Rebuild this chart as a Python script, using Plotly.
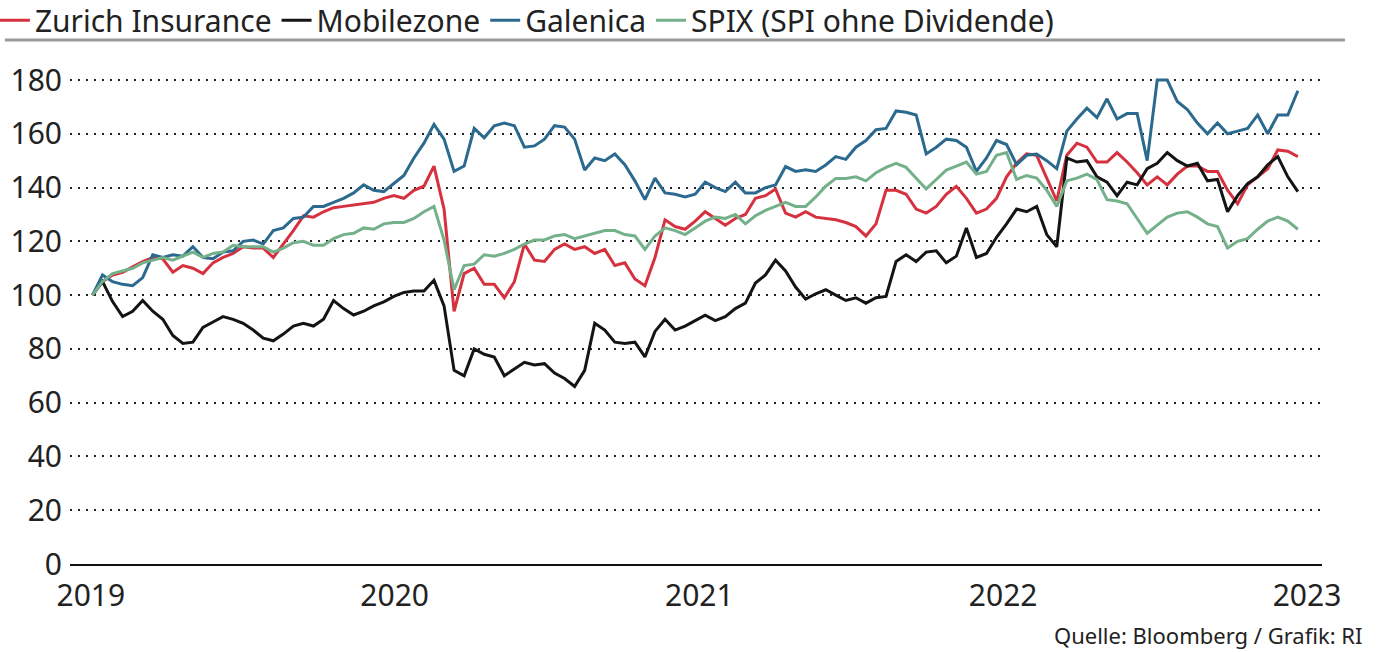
import pandas as pd
import plotly.graph_objects as go

# Common trading-date grid (roughly every 12 days), Jan 2019 - Dec 2022
dates = pd.date_range("2019-01-03", "2022-12-21", periods=121)

zurich = [
    100, 105, 107.5, 108.5, 110.5, 112.5, 114, 113.5, 108.5, 111,
    110, 108, 112, 114, 115.5, 118, 117.5, 117.5, 114, 119,
    124, 129.5, 129, 131, 132.5, 133, 133.5, 134, 134.5, 136,
    137, 136, 139, 140.5, 148, 132, 94, 108, 110, 104,
    104, 99, 105, 119, 113, 112.5, 117, 119, 117, 118,
    115.5, 117, 111, 112, 106, 103.5, 114, 128, 125.5, 124.5,
    127.5, 131, 128.5, 126, 128.5, 130, 136, 137, 139.5, 130.5,
    129, 131, 129, 128.5, 128, 127, 125.5, 122, 126.5, 139,
    139, 137.5, 132, 130.5, 133, 137.5, 140.5, 136, 130.5, 132,
    136, 144, 149, 152.5, 152, 143.5, 135, 152, 156.5, 155,
    149.5, 149.5, 153, 149.5, 145.5, 141, 144, 141, 145, 148,
    148, 146, 146, 139, 134, 141, 144, 147, 154, 153.5,
    151.5,
]

mobilezone = [
    100, 105, 97.6, 92, 94, 98, 94, 91, 85, 82,
    82.5, 88, 90, 92, 91, 89.5, 87, 84, 83, 85.5,
    88.5, 89.5, 88.5, 91, 98, 95, 92.6, 94, 96, 97.5,
    99.5, 101, 101.5, 101.5, 105.5, 96, 72, 70, 80, 78,
    77, 70, 72.5, 75, 74, 74.5, 71, 69, 66, 72,
    89.5, 87, 82.5, 82, 82.5, 77, 86.5, 91, 87, 88.5,
    90.5, 92.5, 90.5, 92, 95, 97, 104.5, 107.5, 113, 109,
    103, 98.5, 100.5, 102, 100, 98, 99, 97, 99, 99.5,
    112.5, 115, 112.5, 116, 116.5, 112, 114.5, 125, 114, 115.5,
    121.5, 126.5, 132, 131, 133, 122.5, 118, 151, 149.5, 150,
    144, 142, 137, 142, 141, 147, 149, 153, 150, 148,
    149, 142.5, 143, 131, 137, 141.5, 144, 148.5, 151.5, 144,
    138.5,
]

galenica = [
    100, 107.5, 105, 104, 103.5, 106.5, 115, 114, 115, 114.5,
    118, 114, 113.5, 116, 116.5, 120, 120.5, 119, 124, 125,
    128.5, 129, 133, 133, 134.5, 136, 138, 141, 139, 138.5,
    141.5, 144.5, 151, 156.5, 163.5, 158, 146, 148, 162, 158.5,
    163, 164, 163, 155, 155.5, 158, 163, 162.5, 158, 146.5,
    151, 150, 152.5, 148.5, 142.5, 135.5, 143.5, 138, 137.5, 136.5,
    137.5, 142, 140, 138.5, 142, 138, 138, 140, 141, 147.8,
    146, 146.6, 146, 148.4, 151.5, 150.5, 155, 157.5, 161.5, 162,
    168.5, 168, 167, 152.5, 155, 158, 157.5, 155, 146, 151,
    157.5, 156, 148.5, 152, 152.5, 150, 147, 161, 165.5, 169.5,
    166, 173, 165.5, 167.5, 167.5, 150, 180, 180, 172, 169,
    164, 160, 164, 160, 161, 162, 167, 160, 167, 167,
    176,
]

spix = [
    100, 105, 108, 109, 110, 112, 113, 114, 113, 114.5,
    116, 114, 115.5, 116, 118.5, 118, 118, 118, 116, 117.5,
    119.5, 120, 118.5, 118.5, 121, 122.5, 123, 125, 124.5, 126.5,
    127, 127, 128.5, 131, 133, 120.5, 102, 111, 111.5, 115,
    114.5, 115.5, 117, 119, 120.5, 120.5, 122, 122.5, 121, 122,
    123, 124, 124, 122.5, 122, 117, 122, 125, 124, 122.5,
    125, 127.5, 129, 128.5, 130, 126.5, 129.5, 131.5, 133, 134.5,
    133, 133, 136.5, 140.5, 143.4, 143.4, 144, 142.5, 145.5, 147.5,
    149, 147.5, 143.5, 139.5, 143, 146.5, 148, 149.5, 145, 146,
    152, 153, 143, 144.5, 143.5, 139, 133, 142.5, 143.5, 145,
    143, 135.5, 135, 134, 128.5, 123, 126, 129, 130.5, 131,
    129, 126.5, 125.5, 117.5, 120, 121, 124.5, 127.5, 129, 127.5,
    124.5,
]

series_names = ["Zurich Insurance", "Mobilezone", "Galenica", "SPIX (SPI ohne Dividende)"]
series_values = [zurich, mobilezone, galenica, spix]
series_colors = ["#d6313f", "#141414", "#2b6a8e", "#74b08a"]

year_ticks = pd.to_datetime(["2019-01-01", "2020-01-01", "2021-01-01", "2022-01-01", "2023-01-01"])
year_labels = ["2019", "2020", "2021", "2022", "2023"]
y_ticks = [0, 20, 40, 60, 80, 100, 120, 140, 160, 180]

FONT = "Noto Sans"
TXT = "#222222"

fig = go.Figure()
for name, vals, col in zip(series_names, series_values, series_colors):
    fig.add_trace(go.Scatter(
        x=dates, y=vals, name=name, mode="lines",
        line=dict(color=col, width=3),
    ))

fig.update_layout(
    width=1379, height=652,
    margin=dict(l=70, r=57, t=60, b=88, autoexpand=False),
    plot_bgcolor="white", paper_bgcolor="white",
    font=dict(family=FONT, size=29, color=TXT),
    showlegend=True,
    legend=dict(
        orientation="h", x=-0.06, xanchor="left", y=1.079, yanchor="middle",
        font=dict(family=FONT, size=30, color=TXT),
        itemwidth=30, bgcolor="rgba(0,0,0,0)", tracegroupgap=0,
    ),
    xaxis=dict(
        range=[pd.Timestamp("2018-12-07"), pd.Timestamp("2023-01-19")],
        tickvals=year_ticks, ticktext=year_labels,
        showgrid=False, zeroline=False,
        showline=True, linecolor="#111111", linewidth=2,
        ticks="", tickfont=dict(family=FONT, size=30, color=TXT),
        ticklabelstandoff=4,
    ),
    yaxis=dict(
        range=[0, 187.44],
        tickvals=y_ticks,
        showgrid=True, gridcolor="#222222", gridwidth=2, griddash="2px,6px",
        zeroline=False, showline=False, ticks="",
        tickfont=dict(family=FONT, size=30, color=TXT),
        ticklabelstandoff=7,
    ),
    shapes=[dict(
        type="line", xref="paper", yref="paper",
        x0=-0.052, x1=1.0184, y0=1.0397, y1=1.0397,
        line=dict(color="#9a9a9a", width=3),
    )],
    annotations=[dict(
        text="Quelle: Bloomberg / Grafik: RI",
        xref="paper", yref="paper", x=1.0335, y=-0.141,
        xanchor="right", yanchor="middle", showarrow=False,
        font=dict(family=FONT, size=22, color=TXT),
    )],
)

fig.write_html(
    "out.html",
    config={"displayModeBar": False},
    post_script="document.body.style.margin='0';document.body.style.overflow='hidden';",
)
